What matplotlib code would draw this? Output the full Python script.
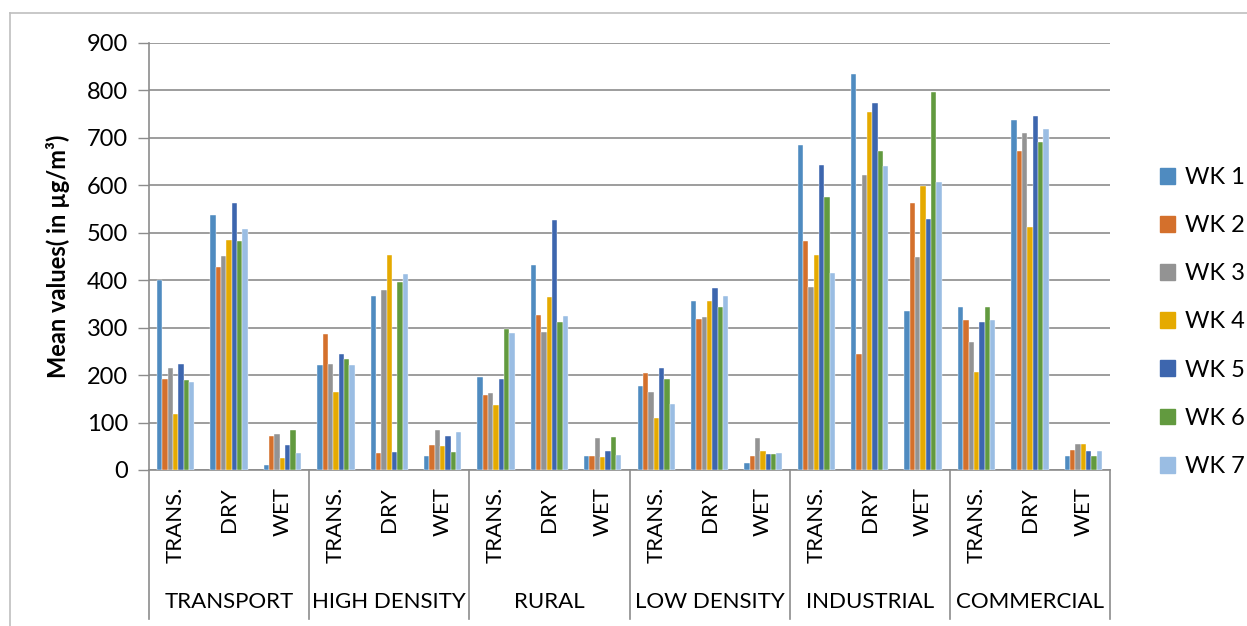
import numpy as np
import matplotlib.pyplot as plt
from matplotlib.patches import Patch
from matplotlib.lines import Line2D
import matplotlib.transforms as mtransforms

plt.rcParams['font.family'] = ['Lato', 'DejaVu Sans']

# data (mean values in ug/m3)
areas = ['TRANSPORT', 'HIGH DENSITY', 'RURAL', 'LOW DENSITY', 'INDUSTRIAL', 'COMMERCIAL']
seasons = ['TRANS.', 'DRY', 'WET']
weeks = ['WK 1', 'WK 2', 'WK 3', 'WK 4', 'WK 5', 'WK 6', 'WK 7']

# one list per week, 18 values: (TRANS., DRY, WET) for each area in order
wk1 = [401, 538, 11, 222, 366, 29, 196, 431, 29, 176, 357, 15, 684, 835, 335, 344, 738, 30]
wk2 = [191, 428, 71, 286, 35, 52, 159, 326, 30, 205, 318, 29, 482, 244, 562, 316, 672, 43]
wk3 = [214, 450, 76, 223, 380, 84, 162, 290, 67, 164, 323, 67, 385, 622, 448, 269, 710, 55]
wk4 = [117, 484, 25, 164, 452, 50, 137, 365, 28, 109, 355, 40, 452, 755, 599, 207, 511, 55]
wk5 = [224, 562, 53, 244, 37, 71, 191, 527, 40, 215, 384, 33, 642, 772, 528, 312, 746, 40]
wk6 = [190, 482, 84, 233, 396, 38, 297, 311, 69, 191, 344, 34, 574, 672, 797, 344, 691, 30]
wk7 = [186, 507, 36, 221, 412, 79, 288, 324, 31, 140, 367, 36, 415, 640, 606, 315, 719, 39]

colors = ['#4F8BC0', '#D4702C', '#939393', '#E5AA00', '#3D66AE', '#629A3F', '#9ABDE3']

fig = plt.figure(figsize=(12.47, 6.26), dpi=100)
ax = fig.add_axes([149 / 1247, 1 - 470 / 626, (1110 - 149) / 1247, (470 - 42.7) / 626])

series = [wk1, wk2, wk3, wk4, wk5, wk6, wk7]
n_cat = len(areas) * len(seasons)
x = np.arange(n_cat)
bw = 0.1
for i, vals in enumerate(series):
    ax.bar(x + (i - 3) * bw, vals, width=bw, color=colors[i], label=weeks[i],
           edgecolor='white', linewidth=0.3, zorder=3)

grid_col = '#8C8C8C'
ax.set_xlim(-0.5, n_cat - 0.5)
ax.set_ylim(0, 900)
ax.set_yticks(np.arange(0, 901, 100))
ax.yaxis.grid(True, color=grid_col, linewidth=1.2, zorder=0)
ax.tick_params(axis='y', length=8, width=1, color=grid_col, labelsize=17, pad=7)
ax.tick_params(axis='x', length=0, labelbottom=False)
for s in ['top', 'right']:
    ax.spines[s].set_visible(False)
for s in ['left', 'bottom']:
    ax.spines[s].set_color(grid_col)
    ax.spines[s].set_linewidth(1.2)

ax.set_ylabel('Mean values( in µg/m³)', fontsize=17, fontweight='bold', labelpad=12)

# multi-level category axis
trans = mtransforms.blended_transform_factory(ax.transData, ax.transAxes)
depth = (619 - 470) / (470 - 42.7)
for k in range(n_cat):
    ax.text(x[k], -(487 - 470) / (470 - 42.7), seasons[k % 3], transform=trans,
            rotation=90, ha='center', va='top', fontsize=16)
for g, name in enumerate(areas):
    ax.text(g * 3 + 1, -(602 - 470) / (470 - 42.7), name, transform=trans,
            ha='center', va='center', fontsize=16)
for g in range(len(areas) + 1):
    ax.add_line(Line2D([g * 3 - 0.5, g * 3 - 0.5], [0, -depth], transform=trans,
                       color=grid_col, linewidth=1.2, clip_on=False))

# legend
handles = [Patch(color=c, label=w) for c, w in zip(colors, weeks)]
fig.legend(handles=handles, loc='center left', bbox_to_anchor=(1148 / 1247, 1 - 322 / 626),
           frameon=False, fontsize=17, handlelength=0.65, handleheight=0.65,
           handletextpad=0.4, labelspacing=1.15, borderpad=0)

# outer chart frame
fig.add_artist(Line2D([10 / 1247, 10 / 1247], [0, 1 - 13 / 626], color='#BFBFBF', linewidth=1.2))
fig.add_artist(Line2D([10 / 1247, 1], [1 - 13 / 626, 1 - 13 / 626], color='#BFBFBF', linewidth=1.2))

fig.savefig('out.png', dpi=100)
